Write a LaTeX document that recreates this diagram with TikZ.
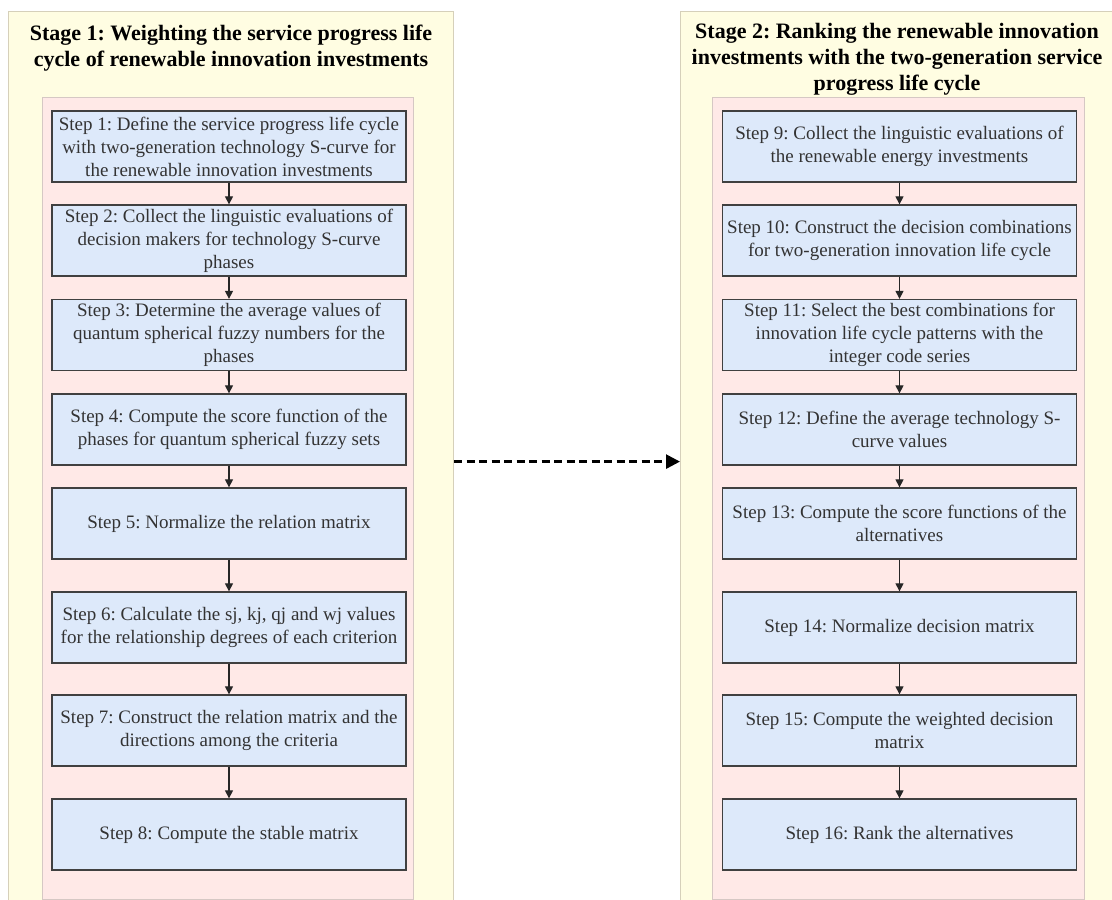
\documentclass[tikz,border=0pt]{standalone}
\usepackage{fontspec}
\setmainfont{Liberation Serif}
\usetikzlibrary{arrows.meta, positioning}
\definecolor{stageyellow}{RGB}{255,253,226}
\definecolor{stageedge}{RGB}{214,208,186}
\definecolor{panelpink}{RGB}{255,233,231}
\definecolor{paneledge}{RGB}{214,200,196}
\definecolor{stepblue}{RGB}{221,233,250}
\frenchspacing
\tikzset{
  stagebox/.style={draw=stageedge, fill=stageyellow, line width=1.2pt, inner sep=0pt, anchor=north west},
  panelbox/.style={draw=paneledge, fill=panelpink, line width=1pt, inner sep=0pt, anchor=north west},
  stepbox/.style={draw=black!75, fill=stepblue, line width=1.3pt, minimum width=354pt, minimum height=71pt, inner sep=2pt, align=center, text=black!80, font=\fontsize{19}{23}\selectfont},
  titletext/.style={align=center, anchor=north, inner sep=0pt, font=\fontsize{22}{26}\selectfont\bfseries},
  stepflow/.style={-{Triangle[width=8pt,length=8pt]}, line width=1.2pt, black!85},
  stagelink/.style={-{Triangle[width=14pt,length=14pt]}, line width=2.6pt, dash pattern=on 8pt off 4.5pt},
}
\begin{document}
\begin{tikzpicture}[x=1pt, y=-1pt]
  \useasboundingbox (0,0) rectangle (1112,900);
  % stages and panels
  \node[stagebox, minimum width=445pt, minimum height=900pt] (stage1) at (8,11) {};
  \node[stagebox, minimum width=434pt, minimum height=900pt] (stage2) at (680,11) {};
  \node[panelbox, minimum width=371pt, minimum height=802pt] (panel1) at (42,97) {};
  \node[panelbox, minimum width=372pt, minimum height=802pt] (panel2) at (712,97) {};
  % stage 1 steps
  \node[stepbox] (s1) at (229,146.5) {Step 1: Define the service progress life cycle\\with two-generation technology S-curve for\\the renewable innovation investments};
  \node[stepbox] (s2) at (229,240.5) {Step 2: Collect the linguistic evaluations of\\decision makers for technology S-curve\\phases};
  \node[stepbox] (s3) at (229,335) {Step 3: Determine the average values of\\quantum spherical fuzzy numbers for the\\phases};
  \node[stepbox] (s4) at (229,429.5) {Step 4: Compute the score function of the\\phases for quantum spherical fuzzy sets};
  \node[stepbox] (s5) at (229,523.5) {Step 5: Normalize the relation matrix};
  \node[stepbox] (s6) at (229,627.5) {Step 6: Calculate the sj, kj, qj and wj values\\for the relationship degrees of each criterion};
  \node[stepbox] (s7) at (229,730.5) {Step 7: Construct the relation matrix and the\\directions among the criteria};
  \node[stepbox] (s8) at (229,834.5) {Step 8: Compute the stable matrix};
  % stage 2 steps
  \node[stepbox] (s9) at (899.5,146.5) {Step 9: Collect the linguistic evaluations of\\the renewable energy investments};
  \node[stepbox] (s10) at (899.5,240.5) {Step 10: Construct the decision combinations\\for two-generation innovation life cycle};
  \node[stepbox] (s11) at (899.5,335) {Step 11: Select the best combinations for\\innovation life cycle patterns with the\\integer code series};
  \node[stepbox] (s12) at (899.5,429.5) {Step 12: Define the average technology S-\\curve values};
  \node[stepbox] (s13) at (899.5,523.5) {Step 13: Compute the score functions of the\\alternatives};
  \node[stepbox] (s14) at (899.5,627.5) {Step 14: Normalize decision matrix};
  \node[stepbox] (s15) at (899.5,730.5) {Step 15: Compute the weighted decision\\matrix};
  \node[stepbox] (s16) at (899.5,834.5) {Step 16: Rank the alternatives};
  \foreach \i/\j in {s1/s2,s2/s3,s3/s4,s4/s5,s5/s6,s6/s7,s7/s8,s9/s10,s10/s11,s11/s12,s12/s13,s13/s14,s14/s15,s15/s16}
    \draw[stepflow] (\i) -- (\j);
  \draw[stagelink] (stage1.east) -- (stage2.west);
  % titles
  \node[titletext] (title1) at (231,25) {Stage 1: Weighting the service progress life\\cycle of renewable innovation investments};
  \node[titletext] (title2) at (897,23.5) {Stage 2: Ranking the renewable innovation\\investments with the two-generation service\\progress life cycle};
\end{tikzpicture}
\end{document}
